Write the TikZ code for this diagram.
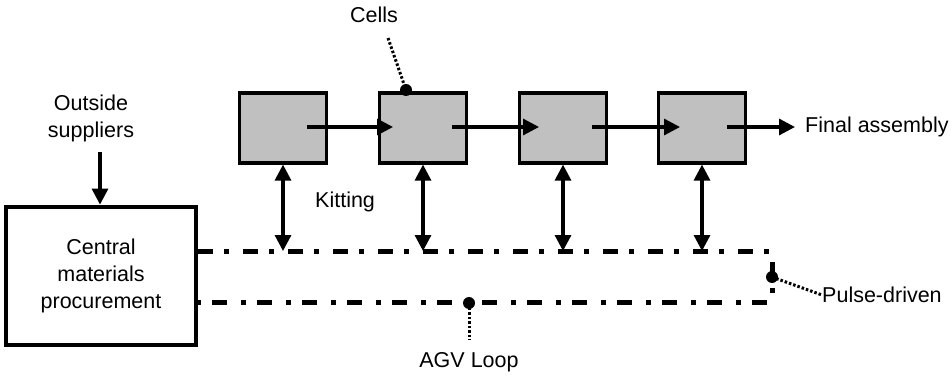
\documentclass[tikz,border=0pt]{standalone}
\usepackage{fontspec}
\setmainfont{Liberation Sans}
\usetikzlibrary{arrows.meta}
\begin{document}
\begin{tikzpicture}[x=1pt,y=-1pt,
  every node/.style={font=\fontsize{21.5}{26}\selectfont, inner sep=0pt},
  cell/.style={draw, line width=3.2pt, minimum width=87pt, minimum height=70pt},
  hub/.style={draw, line width=4.8pt, minimum width=190pt, minimum height=138pt, align=center},
  flow/.style={line width=3.2pt, -{Triangle[length=16pt,width=16pt]}},
  both/.style={line width=3.2pt, {Triangle[length=16pt,width=16pt]}-{Triangle[length=16pt,width=16pt]}},
  loop/.style={line width=5pt, dash pattern=on 15pt off 11pt on 5pt off 14pt},
  leader/.style={line width=3pt, dash pattern=on 2.5pt off 2pt},
  dotmark/.style={circle, fill=black, minimum size=12pt}]
\useasboundingbox (0,0) rectangle (952,377);
\definecolor{cellgray}{HTML}{C0C0C0}
% cells
\node[cell, fill=cellgray] (c1) at (283,128) {};
\node[cell, fill=cellgray] (c2) at (423,128) {};
\node[cell, fill=cellgray] (c3) at (563,128) {};
\node[cell, fill=cellgray] (c4) at (702,128) {};
% central box
\node[hub] (cm) at (101,276) {Central\\[1pt]materials\\[1pt]procurement};
% texts
\node (cells) at (374,15) {Cells};
\node[align=center] (os) at (91,118) {Outside\\[1pt]suppliers};
\node[anchor=west] (fa) at (805,127) {Final assembly};
\node[anchor=west] (kit) at (315,202) {Kitting};
\node[anchor=west] (pd) at (822,295) {Pulse-driven};
\node (agv) at (469,362) {AGV Loop};
% flow arrows
\coordinate (a1s) at (307,127); \coordinate (a1e) at (393,127);
\coordinate (a2s) at (452,127); \coordinate (a2e) at (539,127);
\coordinate (a3s) at (592,127); \coordinate (a3e) at (680,127);
\coordinate (a4s) at (727,127); \coordinate (a4e) at (795,127);
\draw[flow] (a1s) -- (a1e);
\draw[flow] (a2s) -- (a2e);
\draw[flow] (a3s) -- (a3e);
\draw[flow] (a4s) -- (a4e);
% supplier arrow
\coordinate (sup) at (100,152);
\draw[flow] (sup) -- (cm.north -| sup);
% AGV loop
\coordinate (lt) at (772,251);
\coordinate (lb) at (772,302);
\draw[loop] (cm.east |- lt) -- (lt) -- (lb) -- (cm.east |- lb);
% kitting double arrows
\draw[both] (c1.south) -- (c1.south |- lt);
\draw[both] (c2.south) -- (c2.south |- lt);
\draw[both] (c3.south) -- (c3.south |- lt);
\draw[both] (c4.south) -- (c4.south |- lt);
% leaders
\node[dotmark] (d1) at (406,90) {};
\coordinate (l1) at (388,38);
\draw[leader] (l1) -- (d1.center);
\node[dotmark] (d2) at (772,277) {};
\draw[leader] (d2.center) -- (pd.west);
\node[dotmark] (d3) at (469,303) {};
\coordinate (l3) at (469,340);
\draw[leader] (d3.center) -- (l3);
\end{tikzpicture}
\end{document}
